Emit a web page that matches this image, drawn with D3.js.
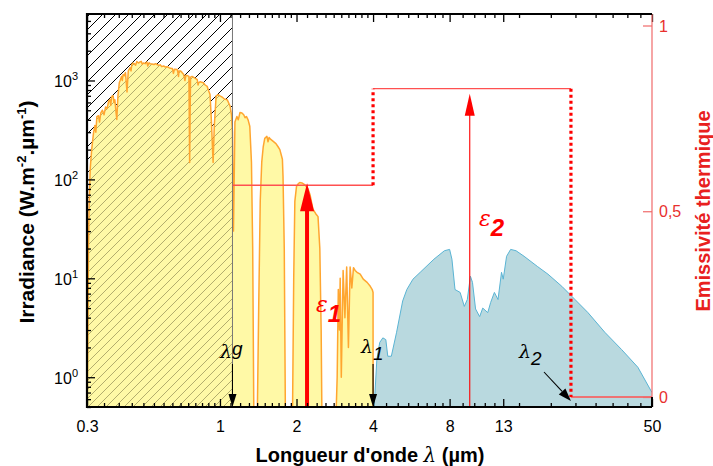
<!DOCTYPE html>
<html><head><meta charset="utf-8">
<script src="https://cdn.jsdelivr.net/npm/d3@7"></script>
<style>body{margin:0;background:#fff}svg{display:block}</style>
</head><body><svg id="c" width="713" height="466"></svg>
<script>
// ---------- data ----------
const solarWl = [0.300,0.302,0.304,0.306,0.309,0.313,0.318,0.322,0.325,0.328,
0.333,0.336,0.340,0.345,0.350,0.355,0.360,0.365,0.369,0.372,
0.375,0.380,0.383,0.386,0.390,0.393,0.397,0.402,0.405,0.410,
0.413,0.416,0.420,0.425,0.431,0.436,0.440,0.443,0.447,0.450,
0.455,0.460,0.466,0.471,0.478,0.485,0.490,0.495,0.500,0.508,
0.516,0.520,0.526,0.531,0.540,0.550,0.558,0.566,0.575,0.582,
0.590,0.600,0.610,0.621,0.630,0.638,0.650,0.656,0.662,0.680,
0.687,0.690,0.699,0.710,0.720,0.728,0.735,0.744,0.755,0.760,
0.766,0.777,0.800,0.814,0.820,0.825,0.835,0.860,0.874,0.891,
0.900,0.914,0.925,0.935,0.940,0.950,0.966,0.984,1.000,1.020,
1.040,1.067,1.080,1.096,1.110,1.120,1.130,1.140,1.145,1.166,
1.180,1.199,1.220,1.240,1.255,1.270,1.290,1.310,1.330,1.345,
1.360,1.400,1.420,1.440,1.460,1.480,1.500,1.530,1.545,1.560,
1.580,1.620,1.660,1.690,1.720,1.760,1.770,1.790,1.810,1.930,
1.950,1.970,2.000,2.030,2.060,2.100,2.160,2.220,2.260,2.320,
2.380,2.430,2.470,2.500,2.520,2.850,2.890,2.920,2.950,2.970,
3.000,3.050,3.100,3.150,3.200,3.250,3.300,3.350,3.400,3.460,
3.560,3.660,3.790,3.900,3.970,4.000,4.001];
const solarIrr = [0.3,2,20,60,130,200,290,350,300,430,
440,380,470,500,450,540,520,620,640,560,
690,700,600,640,480,404,700,950,1000,1100,
1000,1150,1120,1200,765,1250,1300,1350,1250,1450,
1500,1480,1430,1555,1500,1540,1560,1460,1500,1480,
1540,1400,1510,1480,1470,1450,1480,1450,1420,1440,
1380,1400,1370,1380,1350,1330,1320,1180,1300,1290,
1100,1250,1250,1200,1150,1000,1130,1120,1100,148,
1080,1100,1050,1020,900,950,970,950,900,870,
800,720,400,200,148,350,700,720,700,680,
650,640,600,550,450,300,30,150,380,433,
400,475,470,450,420,433,400,345,148,20,
0.3,0.3,5,60,150,215,260,272,240,265,
255,242,230,215,200,160,107,20,0.3,0.5,
10,60,85,90,93,92,88,80,70,50,
45,42,20,3,0.3,0.3,1,7.7,3,10,
1,12,4,13,2,13,8,12.8,12,11.5,
11,9.8,9.1,8.3,7.7,7.2,0.3];
const thermalWl = [4.0,4.04,4.14,4.25,4.37,4.49,4.57,4.72,4.95,5.23,5.43,5.74,6.13,6.94,7.63,8.0,8.17,8.40,8.80,9.14,9.39,9.66,9.84,10.12,10.5,10.8,11.3,11.6,12.0,12.4,12.8,13.0,13.4,13.9,14.6,15.7,17.7,19.5,22.1,24.9,28.0,32.6,38.0,44.0,50];
const thermalIrr = [0.3,0.5,1.52,2.25,2.5,2.4,1.63,1.63,2.85,5.9,7.7,9.8,11.5,15.6,19,19.6,15.6,7.7,7.2,5.2,6.1,10.5,9.1,4.9,4.1,5.0,4.5,5.7,7.2,6.1,11.5,9.8,16.7,19.6,19,16.7,13.2,11,8.3,6.1,4.5,2.85,1.9,1.26,0.7];
const lambdaG = 1.12, lambda1 = 4.0, lambda2 = 24;
const eps1 = 0.57, eps2 = 0.83;
const eps1ArrowWl = 2.2, eps2ArrowWl = 9.6;
const xTicks = [0.3, 1, 2, 4, 8, 13, 50];
const xTickLabels = ["0.3", "1", "2", "4", "8", "13", "50"];
const xMinorTicks = [0.35,0.4,0.45,0.5,0.55,0.6,0.65,0.7,0.75,0.8,0.85,0.9,0.95,1.1,1.2,1.3,1.4,1.5,1.6,1.7,1.8,1.9,2.2,2.4,2.6,2.8,3,3.2,3.4,3.6,3.8,4.5,5,5.5,6,6.5,7,7.5,9,10,11,12,15,20,25,30,35,40,45];
const yTicks = [1, 10, 100, 1000];
const yExp = ["0", "1", "2", "3"];
const eTicks = [0, 0.5, 1];
const eTickLabels = ["0", "0,5", "1"];

// ---------- layout ----------
const L = 87, R = 652, T = 14, B = 407;
const svg = d3.select("#c");
const font = "'Liberation Sans', Arial, sans-serif";
const x = d3.scaleLog().domain([0.3, 50]).range([L, R]);
const y = d3.scaleLog().domain([0.5, 4700]).range([B, T]);
const e = d3.scaleLinear().domain([0, 1]).range([397, 25.5]);

const defs = svg.append("defs");
defs.append("clipPath").attr("id", "plot").append("rect")
  .attr("x", L).attr("y", T).attr("width", R - L).attr("height", B - T);
defs.append("clipPath").attr("id", "hclip").append("rect")
  .attr("x", L).attr("y", T).attr("width", x(lambdaG) - L).attr("height", B - T);
const p1 = defs.append("pattern").attr("id", "hatchK").attr("patternUnits", "userSpaceOnUse")
  .attr("width", 13).attr("height", 13);
p1.append("path").attr("d", "M0,13L13,0M-4,4L4,-4M9,17L17,9").attr("stroke", "#000").attr("stroke-width", 1);
const p2 = defs.append("pattern").attr("id", "hatchO").attr("patternUnits", "userSpaceOnUse")
  .attr("width", 9).attr("height", 9);
p2.append("path").attr("d", "M0,9L9,0M-3,3L3,-3M6,12L12,6").attr("stroke", "#aaa566").attr("stroke-width", 0.9);

const solar = solarWl.map((w, i) => ({ w, v: solarIrr[i] }));
const thermal = thermalWl.map((w, i) => ({ w, v: thermalIrr[i] }));

const g = svg.append("g").attr("clip-path", "url(#plot)");
g.append("rect").attr("x", L).attr("y", T).attr("width", x(lambdaG) - L).attr("height", B - T)
  .attr("fill", "url(#hatchK)");

const area = d3.area().x(d => x(d.w)).y0(B).y1(d => y(Math.max(d.v, 0.3)));
const line = d3.line().x(d => x(d.w)).y(d => y(Math.max(d.v, 0.3)));

g.append("path").datum(solar).attr("d", area).attr("fill", "#fff9a6");
g.append("g").attr("clip-path", "url(#hclip)").append("path").datum(solar).attr("d", area)
  .attr("fill", "url(#hatchO)");
g.append("path").datum(solar).attr("d", line).attr("fill", "none")
  .attr("stroke", "#ffa630").attr("stroke-width", 1.5).attr("stroke-linejoin", "round");

g.append("path").datum(thermal).attr("d", area).attr("fill", "#b9d9df");
g.append("path").datum(thermal).attr("d", line).attr("fill", "none")
  .attr("stroke", "#5ab4d4").attr("stroke-width", 1);

g.append("line").attr("x1", x(lambdaG)).attr("x2", x(lambdaG)).attr("y1", T).attr("y2", B)
  .attr("stroke", "#777").attr("stroke-width", 1);

// ---------- emissivity step ----------
const eSolid = "#ff5050";
const seg = (w1, v1, w2, v2) => g.append("line").attr("x1", x(w1)).attr("y1", e(v1)).attr("x2", x(w2)).attr("y2", e(v2));
seg(lambdaG, eps1, lambda1, eps1).attr("stroke", eSolid).attr("stroke-width", 1.3);
seg(lambda1, eps2, lambda2, eps2).attr("stroke", eSolid).attr("stroke-width", 1.3);
seg(lambda2, 0, 50, 0).attr("stroke", eSolid).attr("stroke-width", 1.3);
seg(lambda1, eps1, lambda1, eps2).attr("stroke", "#ff0000").attr("stroke-width", 3.2).attr("stroke-dasharray", "3,3");
seg(lambda2, eps2, lambda2, 0).attr("stroke", "#ff0000").attr("stroke-width", 3.2).attr("stroke-dasharray", "3,3");

function vArrowUp(px, yTop, width, headH, headW, color) {
  svg.append("line").attr("x1", px).attr("x2", px).attr("y1", B).attr("y2", yTop + headH - 1)
    .attr("stroke", color).attr("stroke-width", width);
  svg.append("path").attr("d", `M${px},${yTop}L${px - headW},${yTop + headH}L${px + headW},${yTop + headH}Z`).attr("fill", color);
}
vArrowUp(x(eps1ArrowWl), e(eps1) - 2, 4, 28, 7, "#ff0000");
vArrowUp(x(eps2ArrowWl), e(eps2) + 5, 1.1, 22, 5, "#ff0000");

function arrowTo(x1, y1, x2, y2, headL, headW) {
  const a = Math.atan2(y2 - y1, x2 - x1);
  const bx = x2 - headL * Math.cos(a), by = y2 - headL * Math.sin(a);
  svg.append("line").attr("x1", x1).attr("y1", y1).attr("x2", bx).attr("y2", by)
    .attr("stroke", "#000").attr("stroke-width", 1.1);
  const nx = -Math.sin(a) * headW, ny = Math.cos(a) * headW;
  svg.append("path").attr("d", `M${x2},${y2}L${bx + nx},${by + ny}L${bx - nx},${by - ny}Z`).attr("fill", "#000");
}
arrowTo(x(lambdaG), 364, x(lambdaG), B, 13, 4);
arrowTo(x(lambda1), 364, x(lambda1), B, 13, 4);
arrowTo(544, 372, x(lambda2), 401, 13, 4.5);

function lamLabel(px, py, sub, subDy) {
  const t = svg.append("text").attr("x", px).attr("y", py).attr("fill", "#000");
  t.append("tspan").text("λ").attr("font-family", "'DejaVu Serif', 'Liberation Serif', serif").attr("font-style", "italic").attr("font-size", 19);
  t.append("tspan").text(sub).attr("dy", subDy).attr("font-family", font).attr("font-style", "italic").attr("font-size", 19);
}
lamLabel(220, 358, "g", -3);
lamLabel(361, 353, "1", 7);
lamLabel(519, 358, "2", 7);

function epsLabel(px, py, sub) {
  const t = svg.append("text").attr("x", px).attr("y", py).attr("fill", "#ff0000");
  t.append("tspan").text("ε").attr("font-family", "'DejaVu Serif', 'Liberation Serif', serif").attr("font-style", "italic").attr("font-size", 22);
  t.append("tspan").text(sub).attr("dy", 10).attr("font-family", font).attr("font-weight", "bold").attr("font-style", "italic").attr("font-size", 24);
}
epsLabel(316, 312, "1");
epsLabel(479, 226, "2");

// ---------- axes ----------
const yMinor = [];
[0.1, 1, 10, 100, 1000].forEach(d => { for (let k = 2; k <= 9; k++) { const v = d * k; if (v >= 0.5 && v <= 4700) yMinor.push(v); } });

const ax = svg.append("g").attr("font-family", font);
ax.append("g").attr("transform", `translate(0,${B})`)
  .call(d3.axisBottom(x).tickValues(xMinorTicks).tickSizeInner(-4).tickSizeOuter(0).tickFormat(""));
ax.append("g").attr("transform", `translate(0,${B})`)
  .call(d3.axisBottom(x).tickValues(xTicks).tickSizeInner(-8).tickSizeOuter(0).tickPadding(14)
    .tickFormat((d, i) => xTickLabels[i]));
ax.append("g").attr("transform", `translate(0,${T})`)
  .call(d3.axisTop(x).tickValues(xMinorTicks).tickSizeInner(-4).tickSizeOuter(0).tickFormat(""));
ax.append("g").attr("transform", `translate(0,${T})`)
  .call(d3.axisTop(x).tickValues(xTicks).tickSizeInner(-8).tickSizeOuter(0).tickFormat(""));
ax.append("g").attr("transform", `translate(${L},0)`)
  .call(d3.axisLeft(y).tickValues(yMinor).tickSizeInner(-4).tickSizeOuter(0).tickFormat(""));
const yl = ax.append("g").attr("transform", `translate(${L},0)`)
  .call(d3.axisLeft(y).tickValues(yTicks).tickSizeInner(-8).tickSizeOuter(0).tickFormat(""));
yl.selectAll(".tick").each(function (d, i) {
  const t = d3.select(this).append("text").attr("x", -9).attr("y", 6).attr("text-anchor", "end")
    .attr("fill", "#000").attr("font-size", 16).attr("font-family", font);
  t.append("tspan").text("10");
  t.append("tspan").text(yExp[i]).attr("dy", -7).attr("font-size", 11);
});
ax.selectAll(".domain").remove();
ax.selectAll(".tick line").attr("stroke", "#000").attr("stroke-width", 1.3);
ax.selectAll(".tick text").attr("font-size", 16).attr("fill", "#000");

const er = svg.append("g").attr("transform", `translate(${R},0)`).attr("font-family", font)
  .call(d3.axisRight(e).tickValues(eTicks).tickSizeInner(-9).tickSizeOuter(0).tickPadding(7)
    .tickFormat((d, i) => eTickLabels[i]));
er.select(".domain").remove();
er.append("line").attr("x1", 0).attr("x2", 0).attr("y1", T).attr("y2", B).attr("stroke", "#f06a6a").attr("stroke-width", 1.2);
er.selectAll(".tick line").attr("stroke", "#f06a6a").attr("stroke-width", 1.2);
er.selectAll(".tick text").attr("font-size", 16).attr("fill", "#e8302e").attr("dy", "0.35em");

svg.append("path").attr("d", `M${R},${T}L${L},${T}L${L},${B}L${R},${B}`)
  .attr("fill", "none").attr("stroke", "#000").attr("stroke-width", 2.2);
svg.append("line").attr("x1", R).attr("x2", R).attr("y1", B - 10).attr("y2", B).attr("stroke", "#000").attr("stroke-width", 2);

// ---------- titles ----------
const xt = svg.append("text").attr("x", 370).attr("y", 462).attr("text-anchor", "middle")
  .attr("font-family", font).attr("font-weight", "bold").attr("font-size", 20).attr("fill", "#000");
xt.append("tspan").text("Longueur d'onde ");
xt.append("tspan").text("λ").attr("font-weight", "normal").attr("font-style", "italic").attr("font-family", "'DejaVu Serif', serif");
xt.append("tspan").text(" (µm)");

const ytl = svg.append("text").attr("transform", "translate(34,212) rotate(-90)").attr("text-anchor", "middle")
  .attr("font-family", font).attr("font-weight", "bold").attr("font-size", 21).attr("fill", "#000");
ytl.append("tspan").text("Irradiance (W.m");
ytl.append("tspan").text("-2").attr("font-size", 13).attr("dy", -8);
ytl.append("tspan").text(".µm").attr("dy", 8);
ytl.append("tspan").text("-1").attr("font-size", 13).attr("dy", -8);
ytl.append("tspan").text(")").attr("dy", 8);

svg.append("text").attr("transform", "translate(710,211) rotate(-90)").attr("text-anchor", "middle")
  .attr("font-family", font).attr("font-weight", "bold").attr("font-size", 20).attr("fill", "#e8201e")
  .text("Emissivité thermique");
</script></body></html>
